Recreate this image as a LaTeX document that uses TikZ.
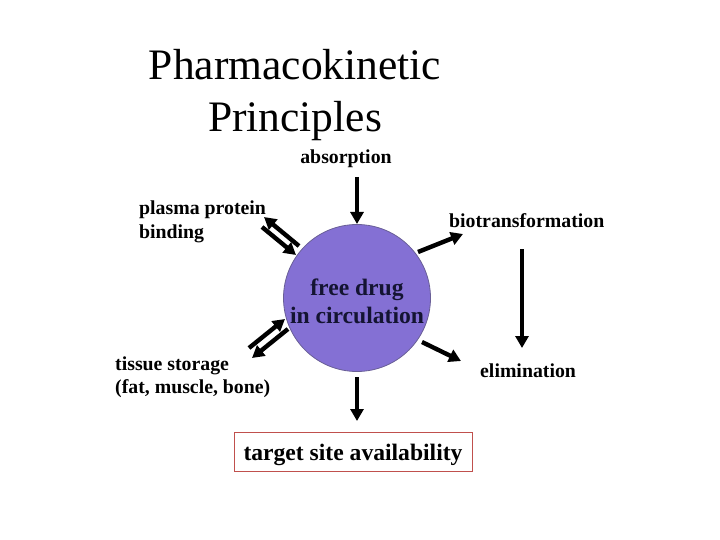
\documentclass[tikz,border=0pt]{standalone}
\usepackage{fontspec}
\setmainfont{Liberation Serif}
\usetikzlibrary{arrows.meta}
\definecolor{drug}{RGB}{132,112,212}
\definecolor{drugedge}{RGB}{105,95,150}
\definecolor{boxred}{RGB}{192,80,77}
\definecolor{darknavy}{RGB}{20,20,50}
\begin{document}
\begin{tikzpicture}[x=1pt,y=-1pt,
  arr/.style={line width=4.4pt,-{Triangle[length=12pt,width=13pt]}},
  lbl/.style={font=\fontsize{19.8}{23.5}\selectfont\bfseries, inner sep=0pt, align=left}]
\useasboundingbox (0,0) rectangle (720,540);
\node[font=\fontsize{43.5}{52}\selectfont, align=center, inner sep=0pt] (title) at (295,95) {Pharmacokinetic\\Principles};
\node[circle, fill=drug, draw=drugedge, line width=0.8pt, minimum size=147pt, inner sep=0pt] (c) at (357,298) {};
\node[font=\fontsize{23.6}{28}\selectfont\bfseries, align=center, text=darknavy, inner sep=0pt] (ct) at (357,301) {free drug\\in circulation};
\node[lbl] (abs) at (346,159) {absorption};
\node[lbl, anchor=west] (ppb) at (139,222) {plasma protein\\binding};
\node[lbl, anchor=west] (bio) at (449,221) {biotransformation};
\node[lbl, anchor=west] (elim) at (480,371) {elimination};
\node[lbl, anchor=west] (tis) at (115,377) {tissue storage\\(fat, muscle, bone)};
\node[draw=boxred, line width=0.8pt, minimum width=238pt, minimum height=39pt, inner sep=0pt,
  text height=16pt, text depth=0pt,
  font=\fontsize{23.6}{28}\selectfont\bfseries] (tgt) at (353,452) {target site availability};
% arrow endpoints
\coordinate (a1) at (357,177); \coordinate (a2) at (357,224);
\coordinate (b1) at (357,377); \coordinate (b2) at (357,421);
\coordinate (r1) at (418,252); \coordinate (r2) at (463,234);
\coordinate (e1) at (422,342); \coordinate (e2) at (461,361);
\coordinate (v1) at (522,249); \coordinate (v2) at (522,348);
\coordinate (p1) at (262,227); \coordinate (p2) at (296,255);
\coordinate (q1) at (299,246); \coordinate (q2) at (264,217);
\coordinate (t1) at (249,348); \coordinate (t2) at (285,319);
\coordinate (s1) at (288,329); \coordinate (s2) at (252,358);
\draw[arr] (a1) -- (a2);
\draw[arr] (b1) -- (b2);
\draw[arr] (r1) -- (r2);
\draw[arr] (e1) -- (e2);
\draw[arr] (v1) -- (v2);
\draw[arr] (p1) -- (p2);
\draw[arr] (q1) -- (q2);
\draw[arr] (t1) -- (t2);
\draw[arr] (s1) -- (s2);
\end{tikzpicture}
\end{document}
